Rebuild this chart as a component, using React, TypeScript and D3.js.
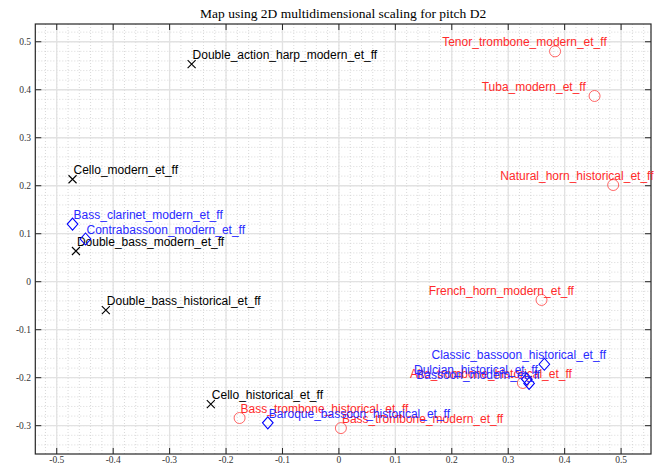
import React from "react";
import * as d3 from "d3";

const stringNames = [
  "Double_action_harp_modern_et_ff",
  "Cello_modern_et_ff",
  "Double_bass_modern_et_ff",
  "Double_bass_historical_et_ff",
  "Cello_historical_et_ff",
];
const stringX = [-0.261, -0.472, -0.466, -0.413, -0.227];
const stringY = [0.4535, 0.2135, 0.064, -0.059, -0.255];

const woodNames = [
  "Bass_clarinet_modern_et_ff",
  "Contrabassoon_modern_et_ff",
  "Baroque_bassoon_historical_et_ff",
  "Classic_bassoon_historical_et_ff",
  "Dulcian_historical_et_ff",
  "Bassoon_modern_et_ff",
];
const woodX = [-0.472, -0.449, -0.126, 0.364, 0.333, 0.337];
const woodY = [0.12, 0.089, -0.294, -0.172, -0.203, -0.212];

const brassNames = [
  "Tenor_trombone_modern_et_ff",
  "Tuba_modern_et_ff",
  "Natural_horn_historical_et_ff",
  "French_horn_modern_et_ff",
  "Alto_trombone_historical_et_ff",
  "Bass_trombone_historical_et_ff",
  "Bass_trombone_modern_et_ff",
];
const brassX = [0.383, 0.453, 0.486, 0.359, 0.326, -0.176, 0.0035];
const brassY = [0.48, 0.387, 0.2015, -0.038, -0.211, -0.284, -0.305];

const xTicks = [-0.5, -0.4, -0.3, -0.2, -0.1, 0, 0.1, 0.2, 0.3, 0.4, 0.5];
const yTicks = [-0.3, -0.2, -0.1, 0, 0.1, 0.2, 0.3, 0.4, 0.5];
const xDomain = [-0.538, 0.553];
const yDomain = [-0.359, 0.537];
const title = "Map using 2D multidimensional scaling for pitch D2";

const W = 659;
const H = 466;
const L = 35.3, R = 651, T = 24, B = 454;

export default function App() {
  const x = d3.scaleLinear().domain(xDomain).range([L, R]);
  const y = d3.scaleLinear().domain(yDomain).range([B, T]);

  const minorX = d3.range(-0.52, 0.56, 0.02).filter((v) => v >= xDomain[0] && v <= xDomain[1]);
  const minorY = d3.range(-0.34, 0.54, 0.02).filter((v) => v >= yDomain[0] && v <= yDomain[1]);

  const labelX = (v: number) => (v > 0.3 ? x(v - 0.2) : x(v) + 1);
  const labelY = (v: number) => y(v + 0.019);

  const lblFont = "'Liberation Sans', Arial, sans-serif";
  const serif = "'Liberation Serif', 'DejaVu Serif', serif";
  const fmt = (v: number) => String(Math.round(v * 10) / 10);

  const items: React.ReactNode[] = [];
  stringNames.forEach((n, i) => {
    const cx = x(stringX[i]);
    const cy = y(stringY[i]);
    const s = 4;
    items.push(
      <g key={"s" + i}>
        <path d={`M${cx - s},${cy - s}L${cx + s},${cy + s}M${cx - s},${cy + s}L${cx + s},${cy - s}`} stroke="#000" strokeWidth={1.1} fill="none" />
        <text x={labelX(stringX[i])} y={labelY(stringY[i])} dy="0.35em" fontSize={12} fontFamily={lblFont} fill="#000">{n}</text>
      </g>
    );
  });
  brassNames.forEach((n, i) => {
    const cx = x(brassX[i]);
    const cy = y(brassY[i]);
    items.push(
      <g key={"b" + i}>
        <circle cx={cx} cy={cy} r={5.5} stroke="#ff4040" strokeWidth={0.8} fill="none" />
        <text x={labelX(brassX[i])} y={labelY(brassY[i])} dy="0.35em" fontSize={12} fontFamily={lblFont} fill="#ff2a2a">{n}</text>
      </g>
    );
  });
  woodNames.forEach((n, i) => {
    const cx = x(woodX[i]);
    const cy = y(woodY[i]);
    items.push(
      <g key={"w" + i}>
        <path d={`M${cx},${cy - 6}L${cx + 5.3},${cy}L${cx},${cy + 6}L${cx - 5.3},${cy}Z`} stroke="#0000ff" strokeWidth={1.1} fill="none" />
        <text x={labelX(woodX[i])} y={labelY(woodY[i])} dy="0.35em" fontSize={12} fontFamily={lblFont} fill="#2a2aff">{n}</text>
      </g>
    );
  });

  return (
    <svg width={W} height={H} style={{ position: "absolute", left: 0, top: 0, background: "#fff" }}>
      <rect x={0} y={0} width={W} height={H} fill="#fff" />
      <rect x={L} y={T} width={R - L} height={B - T} fill="#fff" />
      {minorX.map((v, i) => (
        <line key={"mx" + i} x1={x(v)} x2={x(v)} y1={T} y2={B} stroke="#c8c8c8" strokeWidth={0.7} strokeDasharray="1,2" />
      ))}
      {minorY.map((v, i) => (
        <line key={"my" + i} x1={L} x2={R} y1={y(v)} y2={y(v)} stroke="#c8c8c8" strokeWidth={0.7} strokeDasharray="1,2" />
      ))}
      {xTicks.map((v, i) => (
        <line key={"gx" + i} x1={x(v)} x2={x(v)} y1={T} y2={B} stroke="#e2e2e2" strokeWidth={1.3} />
      ))}
      {yTicks.map((v, i) => (
        <line key={"gy" + i} x1={L} x2={R} y1={y(v)} y2={y(v)} stroke="#e2e2e2" strokeWidth={1.3} />
      ))}
      {xTicks.map((v, i) => (
        <g key={"tx" + i}>
          <line x1={x(v)} x2={x(v)} y1={B} y2={B - 6} stroke="#262626" strokeWidth={1} />
          <line x1={x(v)} x2={x(v)} y1={T} y2={T + 6} stroke="#262626" strokeWidth={1} />
          <text x={x(v)} y={460} dy="0.35em" textAnchor="middle" fontSize={9.5} fontFamily={serif} fill="#333">{fmt(v)}</text>
        </g>
      ))}
      {yTicks.map((v, i) => (
        <g key={"ty" + i}>
          <line x1={L} x2={L + 6} y1={y(v)} y2={y(v)} stroke="#262626" strokeWidth={1} />
          <line x1={R} x2={R - 6} y1={y(v)} y2={y(v)} stroke="#262626" strokeWidth={1} />
          <text x={31} y={y(v)} dy="0.35em" textAnchor="end" fontSize={9.5} fontFamily={serif} fill="#333">{fmt(v)}</text>
        </g>
      ))}
      <rect x={L} y={T} width={R - L} height={B - T} fill="none" stroke="#262626" strokeWidth={1.2} />
      {items}
      <text x={(L + R) / 2} y={13} dy="0.35em" textAnchor="middle" fontSize={13.5} fontFamily={serif} fill="#000">{title}</text>
    </svg>
  );
}
